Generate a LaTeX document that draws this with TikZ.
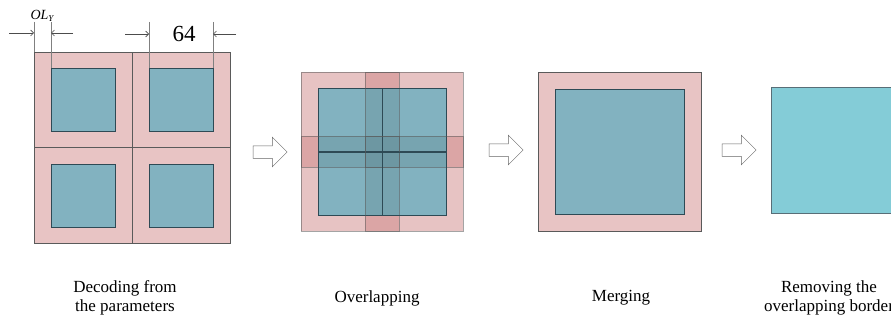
\documentclass[tikz,border=0pt]{standalone}
\usepackage{fontspec}
\setmainfont{Liberation Serif}
\usetikzlibrary{arrows.meta,shapes.arrows}
\definecolor{tilepink}{HTML}{E8C4C4}
\definecolor{ovpink}{HTML}{D18989}
\definecolor{tileblue}{HTML}{82B2C0}
\definecolor{outblue}{HTML}{84CCD7}
\definecolor{tileedge}{HTML}{5A5A5A}
\definecolor{blueedge}{HTML}{2E4A55}

\begin{document}
\begin{tikzpicture}[x=1pt,y=-1pt,line width=0.8pt,
    border/.style={fill=tilepink,draw=tileedge},
    core/.style={fill=tileblue,draw=blueedge},
    dimline/.style={draw=gray,line width=0.6pt},
    dimarr/.style={draw=black!70,line width=0.6pt,-{Straight Barb[length=3pt,width=6pt]}},
    blockarr/.style={single arrow,draw=black!60,fill=white,line width=0.5pt,
      minimum height=34pt,inner sep=6pt,single arrow head extend=8.5pt},
    caption/.style={font=\fontsize{17}{18.5}\selectfont,align=center}]
  \clip (0,0) rectangle (891,321);
  \fill[white] (0,0) rectangle (891,321);

  % decoding from the parameters: four separate tiles
  \foreach \tx/\ty in {34/52,132/52,34/147.5,132/147.5}{
    \draw[border] (\tx,\ty) rectangle ++(98,95.5);
    \draw[core] (\tx+17,\ty+16.5) rectangle ++(64,63);
  }

  % dimensions
  \coordinate (olA) at (34,33);  \coordinate (olAout) at (9,33);
  \coordinate (olB) at (51,33);  \coordinate (olBout) at (73,33);
  \coordinate (wA) at (149,34);  \coordinate (wAout) at (125,34);
  \coordinate (wB) at (213,34);  \coordinate (wBout) at (236,34);
  \draw[dimline] (34,22) -- (34,52);
  \draw[dimline] (51,22) -- (51,68.5);
  \draw[dimline] (149,22) -- (149,68.5);
  \draw[dimline] (213,22) -- (213,68.5);
  \draw[dimarr] (olAout) -- (olA);
  \draw[dimarr] (olBout) -- (olB);
  \draw[dimarr] (wAout) -- (wA);
  \draw[dimarr] (wBout) -- (wB);
  \node (olY) at (42,16) {\fontsize{14}{15}\selectfont\itshape OL\raisebox{-0.35ex}{\fontsize{9}{10}\selectfont Y}};
  \node (wlab) at (184,34) {\fontsize{23}{24}\selectfont 64};

  % overlapping
  \foreach \tx/\ty in {301/72,365/72,301/136,365/136}
    \fill[ovpink,fill opacity=0.5] (\tx,\ty) rectangle ++(98,95);
  \foreach \tx/\ty in {301/72,365/72,301/136,365/136}
    \fill[tileblue] (\tx+17,\ty+16.5) rectangle ++(64,62.5);
  \fill[black,fill opacity=0.08] (365,88.5) rectangle (399,214.5); % shared columns
  \fill[black,fill opacity=0.08] (318,136) rectangle (446,167);    % shared rows
  \foreach \tx/\ty in {301/72,365/72,301/136,365/136}{
    \draw[tileedge,draw opacity=0.55] (\tx,\ty) rectangle ++(98,95);
    \draw[blueedge] (\tx+17,\ty+16.5) rectangle ++(64,62.5);
  }

  % merging
  \draw[border] (538,72) rectangle (701,231);
  \draw[core] (555,89) rectangle (684,214);

  % removing the overlapping border
  \draw[fill=outblue,draw=blueedge!80] (771,87) rectangle (900,213);

  \node[blockarr] (step1) at (267,152) {};
  \node[blockarr] (step2) at (503,150) {};
  \node[blockarr] (step3) at (736,150) {};

  \node[caption] (cap1) at (125,298) {Decoding from\\the parameters};
  \node[caption] (cap2) at (377,298) {Overlapping};
  \node[caption] (cap3) at (621,298) {Merging};
  \node[caption] (cap4) at (829,298) {Removing the\\overlapping border};
\end{tikzpicture}
\end{document}
